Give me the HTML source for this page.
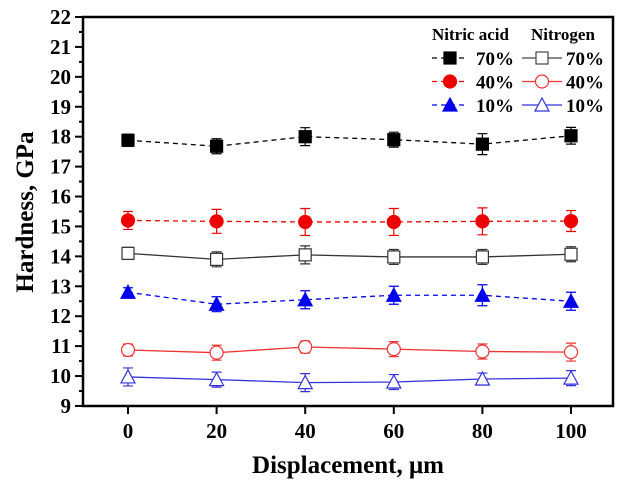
<!DOCTYPE html>
<html><head><meta charset="utf-8"><style>body{margin:0;background:#fff}svg{display:block}text{font-family:"Liberation Serif",serif;font-weight:bold}</style></head>
<body><svg id="s" width="625" height="486" xmlns="http://www.w3.org/2000/svg"></svg>
<script>
const s=document.getElementById('s');let h='';
const X=v=>128+v*4.43, Y=v=>17+(22-v)*29.92;
h+='<rect x="83" y="17" width="530" height="389" fill="none" stroke="#000" stroke-width="2.5"/>';
for(let v=9;v<=22;v+=0.5){const y=Y(v),maj=Number.isInteger(v);h+=`<line x1="${maj?75:79}" x2="83" y1="${y}" y2="${y}" stroke="#000" stroke-width="2"/>`;if(maj)h+=`<text x="71" y="${y+7}" font-size="21" text-anchor="end">${v}</text>`;}
for(let v=0;v<=100;v+=20){const x=X(v);h+=`<line x1="${x}" x2="${x}" y1="406" y2="414" stroke="#000" stroke-width="2"/><text x="${x}" y="438" font-size="21" text-anchor="middle">${v}</text>`;}
h+='<text x="348" y="473" font-size="25" text-anchor="middle">Displacement, μm</text>';
h+='<text transform="translate(33,212) rotate(-90)" font-size="25" text-anchor="middle">Hardness, GPa</text>';
const xs=[0,20,40,60,80,100];
const S=[
['#000',1,'sq',[17.88,17.68,18.0,17.9,17.75,18.03],[.2,.25,.3,.25,.35,.28]],
['#e00',1,'ci',[15.2,15.17,15.15,15.15,15.17,15.18],[.3,.4,.45,.45,.45,.35]],
['#00e',1,'tr',[12.8,12.4,12.55,12.7,12.7,12.5],[.15,.25,.3,.3,.35,.3]],
['#333',0,'sq',[14.1,13.9,14.05,13.98,13.98,14.07],[.2,.25,.3,.25,.25,.25]],
['#e33',0,'ci',[10.87,10.78,10.97,10.9,10.82,10.8],[.2,.25,.2,.25,.25,.3]],
['#33d',0,'tr',[9.97,9.88,9.78,9.8,9.9,9.93],[.3,.25,.3,.25,.2,.25]]];
function mk(t,x,y,c,f){const fill=f?c:'#fff';
if(t=='sq')return `<rect x="${x-6}" y="${y-6}" width="12" height="12" fill="${fill}" stroke="${c}" stroke-width="1.2"/>`;
if(t=='ci')return `<circle cx="${x}" cy="${y}" r="6.5" fill="${fill}" stroke="${c}" stroke-width="1.2"/>`;
return `<polygon points="${x},${y-7} ${x+7},${y+6} ${x-7},${y+6}" fill="${fill}" stroke="${c}" stroke-width="1.2"/>`;}
S.forEach(([c,f,t,d,e])=>{
h+=`<polyline points="${xs.map((v,i)=>X(v)+','+Y(d[i])).join(' ')}" fill="none" stroke="${c}" stroke-width="1.3" ${f?'stroke-dasharray="5,4"':''}/>`;
xs.forEach((v,i)=>{const x=X(v),a=Y(d[i]+e[i]),b=Y(d[i]-e[i]);h+=`<path d="M${x},${a}V${b}M${x-5},${a}H${x+5}M${x-5},${b}H${x+5}" stroke="${c}" stroke-width="1.2"/>`;h+=mk(t,x,Y(d[i]),c,f);});});
h+='<text x="432" y="40" font-size="17">Nitric acid</text><text x="531" y="40" font-size="17">Nitrogen</text>';
[['#000','#444','sq','70%'],['#e00','#e33','ci','40%'],['#00e','#33d','tr','10%']].forEach(([c1,c2,t,l],i)=>{const y=58+i*23.5;
h+=`<line x1="432" x2="466" y1="${y}" y2="${y}" stroke="${c1}" stroke-width="1.3" stroke-dasharray="5,4"/>${mk(t,450,y,c1,1)}<text x="476" y="${y+7}" font-size="19">${l}</text>`;
h+=`<line x1="522" x2="562" y1="${y}" y2="${y}" stroke="${c2}" stroke-width="1.3"/>${mk(t,542,y,c2,0)}<text x="566" y="${y+7}" font-size="19">${l}</text>`;});
s.innerHTML=h;
</script></body></html>
